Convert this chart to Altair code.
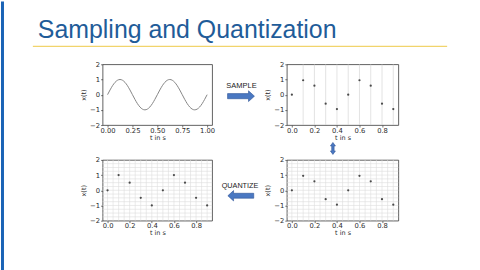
import altair as alt
import pandas as pd

# ---- data ----
t_cont = [0.0, 0.025, 0.05, 0.075, 0.1, 0.125, 0.15, 0.175, 0.2, 0.225,
          0.25, 0.275, 0.3, 0.325, 0.35, 0.375, 0.4, 0.425, 0.45, 0.475,
          0.5, 0.525, 0.55, 0.575, 0.6, 0.625, 0.65, 0.675, 0.7, 0.725,
          0.75, 0.775, 0.8, 0.825, 0.85, 0.875, 0.9, 0.925, 0.95, 0.975, 1.0]
x_cont = [0.0, 0.31, 0.59, 0.81, 0.95, 1.0, 0.95, 0.81, 0.59, 0.31,
          0.0, -0.31, -0.59, -0.81, -0.95, -1.0, -0.95, -0.81, -0.59, -0.31,
          0.0, 0.31, 0.59, 0.81, 0.95, 1.0, 0.95, 0.81, 0.59, 0.31,
          0.0, -0.31, -0.59, -0.81, -0.95, -1.0, -0.95, -0.81, -0.59, -0.31, 0.0]
t_samp = [0.0, 0.1, 0.2, 0.3, 0.4, 0.5, 0.6, 0.7, 0.8, 0.9]
x_samp = [0.0, 0.95, 0.59, -0.59, -0.95, 0.0, 0.95, 0.59, -0.59, -0.95]
x_quant = [0.0, 1.0, 0.5, -0.5, -1.0, 0.0, 1.0, 0.5, -0.5, -1.0]

xticks_cont = [0.0, 0.25, 0.5, 0.75, 1.0]
xticks_samp = [0.0, 0.2, 0.4, 0.6, 0.8]
yticks = [-2, -1, 0, 1, 2]
grid_x_tr = [0.1, 0.2, 0.3, 0.4, 0.5, 0.6, 0.7, 0.8, 0.9]
grid_x_b = [0.0, 0.05, 0.1, 0.15, 0.2, 0.25, 0.3, 0.35, 0.4, 0.45,
            0.5, 0.55, 0.6, 0.65, 0.7, 0.75, 0.8, 0.85, 0.9]
grid_y_b = [-1.75, -1.5, -1.25, -1.0, -0.75, -0.5, -0.25, 0.0,
            0.25, 0.5, 0.75, 1.0, 1.25, 1.5, 1.75]

title_text = "Sampling and Quantization"
label_sample = "SAMPLE"
label_quant = "QUANTIZE"

df_cont = pd.DataFrame({"t": t_cont, "x": x_cont})
df_samp = pd.DataFrame({"t": t_samp, "x": x_samp})
df_quant = pd.DataFrame({"t": t_samp, "x": x_quant})
df_one = pd.DataFrame({"a": [0]})

W_L, W_R, H = 110, 112, 61
PT_COLOR = "#4a4a4a"
GRID_TR = "#cfcfcf"
GRID_B = "#dedede"

ysc = alt.Scale(domain=[-2, 2], nice=False, zero=False)
xsc_cont = alt.Scale(domain=[-0.05, 1.05], nice=False, zero=False)
xsc_samp = alt.Scale(domain=[-0.045, 0.945], nice=False, zero=False)

def yaxis():
    return alt.Axis(values=yticks, format="d", title="x(t)")

def xaxis(vals, fmt):
    return alt.Axis(values=vals, format=fmt, title="t in s")

# ---- decorations (pixel positions relative to top-left panel origin) ----
OX, OY = 102, 63
bounds = alt.Chart(df_one).mark_rect(opacity=0).encode(
    x=alt.value(-OX), x2=alt.value(480 - OX), y=alt.value(-OY), y2=alt.value(270 - OY))
bar = alt.Chart(df_one).mark_rect(color="#1a63b6").encode(
    x=alt.value(-OX), x2=alt.value(3 - OX), y=alt.value(-OY), y2=alt.value(270 - OY))
ttl = alt.Chart(df_one).mark_text(
    text=title_text, font="Liberation Sans", fontSize=25, color="#1f5c99",
    align="left", baseline="alphabetic").encode(
    x=alt.value(37 - OX), y=alt.value(36.5 - OY))
yline = alt.Chart(df_one).mark_rule(color="#f1d46c", strokeWidth=1.5).encode(
    x=alt.value(32 - OX), x2=alt.value(448 - OX), y=alt.value(45 - OY))
t_sample = alt.Chart(df_one).mark_text(
    text=label_sample, font="Liberation Sans", fontSize=7.5, color="#222222",
    align="center", baseline="middle").encode(
    x=alt.value(241.5 - OX), y=alt.value(85 - OY))
t_quant = alt.Chart(df_one).mark_text(
    text=label_quant, font="Liberation Sans", fontSize=7.3, color="#222222",
    align="center", baseline="middle").encode(
    x=alt.value(240 - OX), y=alt.value(185.5 - OY))
right_path = "M -1 -0.19 L 0.56 -0.19 L 0.56 -0.4 L 1 0 L 0.56 0.4 L 0.56 0.19 L -1 0.19 Z"
left_path = "M 1 -0.19 L -0.56 -0.19 L -0.56 -0.4 L -1 0 L -0.56 0.4 L -0.56 0.19 L 1 0.19 Z"
ud_path = ("M 0 -1 L 0.42 -0.42 L 0.2 -0.42 L 0.2 0.42 L 0.42 0.42 L 0 1 "
           "L -0.42 0.42 L -0.2 0.42 L -0.2 -0.42 L -0.42 -0.42 Z")
arr_kw = dict(filled=True, color="#4a78c2", stroke="#2f5597", strokeWidth=0.6, opacity=1)
a_right = alt.Chart(df_one).mark_point(shape=right_path, size=27 * 27, **arr_kw).encode(
    x=alt.value(241 - OX), y=alt.value(95 - OY))
a_left = alt.Chart(df_one).mark_point(shape=left_path, size=26 * 26, **arr_kw).encode(
    x=alt.value(240.8 - OX), y=alt.value(195 - OY))
a_ud = alt.Chart(df_one).mark_point(shape=ud_path, size=12 * 12, **arr_kw).encode(
    x=alt.value(333.3 - OX), y=alt.value(147.5 - OY))

# ---- panels ----
line = alt.Chart(df_cont).mark_line(color="#858585", strokeWidth=1, interpolate="monotone").encode(
    x=alt.X("t:Q", scale=xsc_cont, axis=xaxis(xticks_cont, ".2f")),
    y=alt.Y("x:Q", scale=ysc, axis=yaxis()))
tl = alt.layer(bounds, bar, ttl, yline, t_sample, t_quant, a_right, a_left, a_ud, line).properties(
    width=W_L, height=H)

def vgrid(vals, color):
    return alt.Chart(pd.DataFrame({"g": vals})).mark_rule(color=color, strokeWidth=0.6).encode(
        x=alt.X("g:Q", scale=xsc_samp, axis=xaxis(xticks_samp, ".1f")))

def hgrid(vals, color):
    return alt.Chart(pd.DataFrame({"h": vals})).mark_rule(color=color, strokeWidth=0.6).encode(
        y=alt.Y("h:Q", scale=ysc, axis=yaxis()))

def dots(df):
    return alt.Chart(df).mark_circle(color=PT_COLOR, size=5, opacity=1).encode(
        x=alt.X("t:Q", scale=xsc_samp, axis=xaxis(xticks_samp, ".1f")),
        y=alt.Y("x:Q", scale=ysc, axis=yaxis()))

tr = alt.layer(vgrid(grid_x_tr, GRID_TR), dots(df_samp)).properties(width=W_R, height=H)
br = alt.layer(vgrid(grid_x_b, GRID_B), hgrid(grid_y_b, GRID_B), dots(df_samp)).properties(width=W_R, height=H)
bl = alt.layer(vgrid(grid_x_b, GRID_B), hgrid(grid_y_b, GRID_B), dots(df_quant)).properties(width=W_L, height=H)

chart = alt.concat(
    tl, tr, bl, br, columns=2,
    spacing={"row": 35, "column": 75}, bounds="flush", align="each"
).properties(
    padding=0, background="white"
).configure_view(
    stroke="#3a3a3a", strokeWidth=0.8
).configure_axis(
    grid=False, domain=False, labelFont="DejaVu Sans", titleFont="DejaVu Sans",
    labelFontSize=6.8, titleFontSize=6.5, titleFontWeight="normal",
    labelColor="#2a2a2a", titleColor="#2a2a2a", tickColor="#3a3a3a",
    tickSize=2, tickWidth=0.7,
    labelFlush=False, labelOverlap=False
).configure_axisX(
    labelPadding=0, titlePadding=0.5
).configure_axisY(
    labelPadding=1, titlePadding=3
)

chart.save("out.html", embed_options={"renderer": "svg", "actions": False})
